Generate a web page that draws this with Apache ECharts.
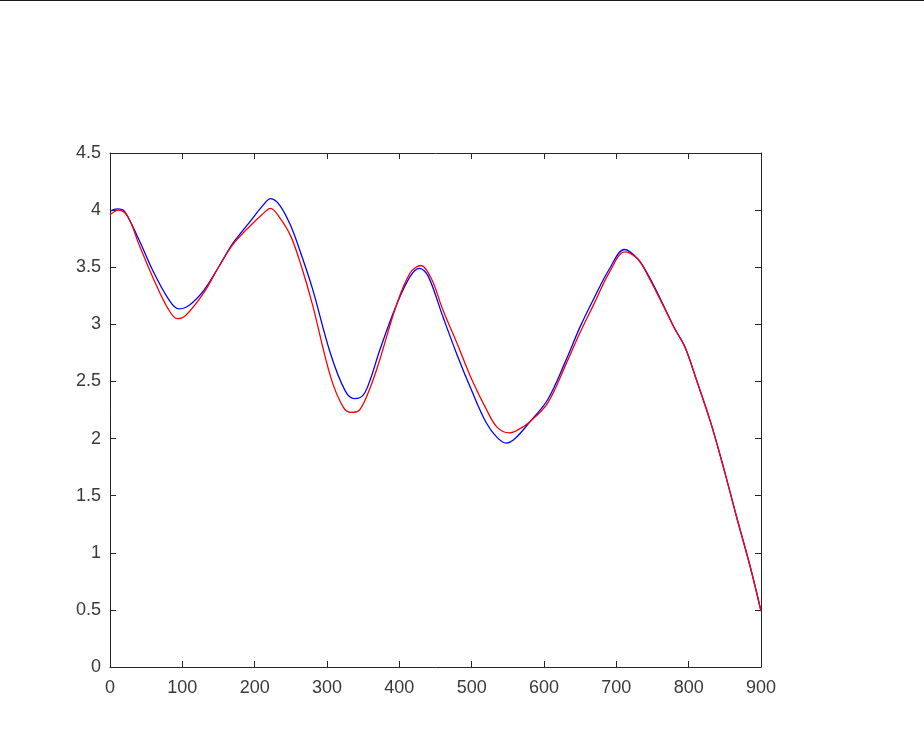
<!DOCTYPE html>
<html>
<head>
<meta charset="utf-8">
<script src="https://cdn.jsdelivr.net/npm/echarts@6/dist/echarts.min.js"></script>
<style>
    html, body { margin: 0; padding: 0; background: #fff; }
    #chart { width: 924px; height: 737px; }
</style>
</head>
<body>
<div id="chart"></div>
<script>
// blue curve
const blueX = [0, 10, 20, 40, 60, 80, 95, 110, 130, 150, 170, 195, 210, 222, 235, 250, 265, 280, 305, 325, 338, 350, 360, 373, 395, 415, 428, 440, 460, 480, 500, 520, 535, 548, 560, 581, 605, 630, 650, 670, 690, 711, 730, 745, 765, 780, 795, 811, 830, 848, 866, 885, 900]
const blueY = [3.99, 4.01, 3.99, 3.74, 3.46, 3.23, 3.135, 3.17, 3.30, 3.50, 3.71, 3.91, 4.03, 4.10, 4.04, 3.86, 3.60, 3.31, 2.74, 2.42, 2.35, 2.38, 2.52, 2.775, 3.155, 3.42, 3.49, 3.42, 3.07, 2.73, 2.42, 2.14, 2.01, 1.96, 2.00, 2.15, 2.34, 2.68, 2.98, 3.24, 3.48, 3.655, 3.57, 3.42, 3.17, 2.97, 2.80, 2.51, 2.15, 1.75, 1.32, 0.88, 0.49]
// red curve
const redX = [0, 12, 25, 40, 60, 80, 93, 105, 130, 150, 170, 195, 210, 222, 235, 250, 265, 280, 305, 322, 333, 345, 360, 373, 395, 415, 430, 445, 460, 480, 500, 520, 535, 552, 565, 581, 605, 630, 650, 670, 690, 712, 730, 745, 765, 780, 795, 811, 830, 848, 866, 885, 900]
const redY = [3.96, 4.00, 3.94, 3.70, 3.40, 3.14, 3.05, 3.08, 3.28, 3.50, 3.70, 3.87, 3.96, 4.015, 3.93, 3.77, 3.50, 3.17, 2.54, 2.28, 2.23, 2.25, 2.45, 2.69, 3.15, 3.45, 3.515, 3.39, 3.13, 2.83, 2.52, 2.26, 2.10, 2.05, 2.08, 2.15, 2.31, 2.645, 2.93, 3.19, 3.45, 3.635, 3.57, 3.41, 3.16, 2.97, 2.80, 2.51, 2.15, 1.75, 1.32, 0.88, 0.49]

const axisColor = '#262626'
const labelStyle = { color: '#3a3a3a', fontSize: 18, fontFamily: 'Liberation Sans, Arial, sans-serif' }

function xAxisCfg(pos, showLabel) {
    return {
        type: 'value', position: pos, min: 0, max: 900, interval: 100,
        axisLine: { show: true, onZero: false, lineStyle: { color: axisColor, width: 1 } },
        axisTick: { show: true, inside: true, length: 6, lineStyle: { color: axisColor } },
        axisLabel: Object.assign({ show: showLabel, margin: 12 }, labelStyle),
        splitLine: { show: false }
    }
}
function yAxisCfg(pos, showLabel) {
    return {
        type: 'value', position: pos, min: 0, max: 4.5, interval: 0.5,
        axisLine: { show: true, onZero: false, lineStyle: { color: axisColor, width: 1 } },
        axisTick: { show: true, inside: true, length: 6, lineStyle: { color: axisColor } },
        axisLabel: Object.assign({ show: showLabel, margin: 9 }, labelStyle),
        splitLine: { show: false }
    }
}

const chart = echarts.init(document.getElementById('chart'))
chart.setOption({
    animation: false,
    backgroundColor: '#fff',
    grid: { left: 110, right: 163, top: 153, bottom: 70, containLabel: false },
    xAxis: [xAxisCfg('bottom', true), xAxisCfg('top', false)],
    yAxis: [yAxisCfg('left', true), yAxisCfg('right', false)],
    graphic: [{ type: 'rect', left: 0, top: 0, shape: { width: 924, height: 1 }, style: { fill: '#1a1a1a' } }],
    series: [
        {
            type: 'line', xAxisIndex: 0, yAxisIndex: 0, smooth: 0.35, showSymbol: false,
            data: blueX.map((x, i) => [x, blueY[i]]),
            lineStyle: { color: '#0000ff', width: 1.3 }
        },
        {
            type: 'line', xAxisIndex: 0, yAxisIndex: 0, smooth: 0.35, showSymbol: false,
            data: redX.map((x, i) => [x, redY[i]]),
            lineStyle: { color: '#ff0000', width: 1.3 }
        }
    ]
})
</script>
</body>
</html>
